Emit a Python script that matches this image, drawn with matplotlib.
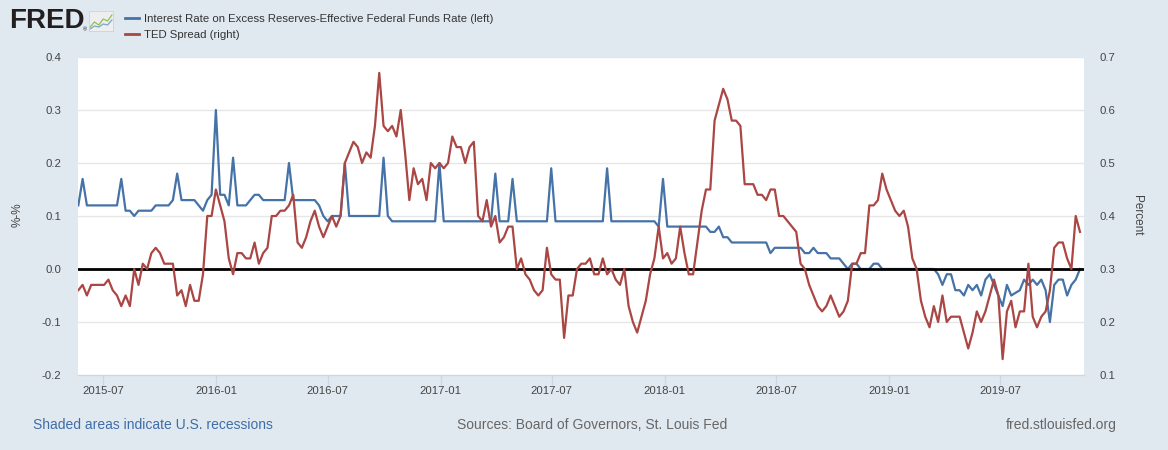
import matplotlib

matplotlib.use("Agg")
import matplotlib.pyplot as plt
import matplotlib.dates as mdates
from matplotlib.lines import Line2D
from matplotlib.ticker import FormatStrFormatter
import pandas as pd

# weekly observations, first week ending 2015-05-22
START = "2015-05-22"

IOER_EFFR = [
    0.12, 0.17, 0.12, 0.12, 0.12, 0.12, 0.12, 0.12, 0.12, 0.12,
    0.17, 0.11, 0.11, 0.10, 0.11, 0.11, 0.11, 0.11, 0.12, 0.12,
    0.12, 0.12, 0.13, 0.18, 0.13, 0.13, 0.13, 0.13, 0.12, 0.11,
    0.13, 0.14, 0.30, 0.14, 0.14, 0.12, 0.21, 0.12, 0.12, 0.12,
    0.13, 0.14, 0.14, 0.13, 0.13, 0.13, 0.13, 0.13, 0.13, 0.20,
    0.13, 0.13, 0.13, 0.13, 0.13, 0.13, 0.12, 0.10, 0.09, 0.10,
    0.10, 0.10, 0.20, 0.10, 0.10, 0.10, 0.10, 0.10, 0.10, 0.10,
    0.10, 0.21, 0.10, 0.09, 0.09, 0.09, 0.09, 0.09, 0.09, 0.09,
    0.09, 0.09, 0.09, 0.09, 0.20, 0.09, 0.09, 0.09, 0.09, 0.09,
    0.09, 0.09, 0.09, 0.09, 0.09, 0.09, 0.09, 0.18, 0.09, 0.09,
    0.09, 0.17, 0.09, 0.09, 0.09, 0.09, 0.09, 0.09, 0.09, 0.09,
    0.19, 0.09, 0.09, 0.09, 0.09, 0.09, 0.09, 0.09, 0.09, 0.09,
    0.09, 0.09, 0.09, 0.19, 0.09, 0.09, 0.09, 0.09, 0.09, 0.09,
    0.09, 0.09, 0.09, 0.09, 0.09, 0.08, 0.17, 0.08, 0.08, 0.08,
    0.08, 0.08, 0.08, 0.08, 0.08, 0.08, 0.08, 0.07, 0.07, 0.08,
    0.06, 0.06, 0.05, 0.05, 0.05, 0.05, 0.05, 0.05, 0.05, 0.05,
    0.05, 0.03, 0.04, 0.04, 0.04, 0.04, 0.04, 0.04, 0.04, 0.03,
    0.03, 0.04, 0.03, 0.03, 0.03, 0.02, 0.02, 0.02, 0.01, 0.00,
    0.01, 0.01, 0.00, 0.00, 0.00, 0.01, 0.01, 0.00, 0.00, 0.00,
    0.00, 0.00, 0.00, 0.00, 0.00, 0.00, 0.00, 0.00, 0.00, 0.00,
    -0.01, -0.03, -0.01, -0.01, -0.04, -0.04, -0.05, -0.03, -0.04, -0.03,
    -0.05, -0.02, -0.01, -0.03, -0.05, -0.07, -0.03, -0.05, -0.045, -0.04,
    -0.02, -0.03, -0.02, -0.03, -0.02, -0.04, -0.10, -0.03, -0.02, -0.02,
    -0.05, -0.03, -0.02, 0.00,
]

TED = [
    0.26, 0.27, 0.25, 0.27, 0.27, 0.27, 0.27, 0.28, 0.26, 0.25,
    0.23, 0.25, 0.23, 0.30, 0.27, 0.31, 0.30, 0.33, 0.34, 0.33,
    0.31, 0.31, 0.31, 0.25, 0.26, 0.23, 0.27, 0.24, 0.24, 0.29,
    0.40, 0.40, 0.45, 0.42, 0.39, 0.32, 0.29, 0.33, 0.33, 0.32,
    0.32, 0.35, 0.31, 0.33, 0.34, 0.40, 0.40, 0.41, 0.41, 0.42,
    0.44, 0.35, 0.34, 0.36, 0.39, 0.41, 0.38, 0.36, 0.38, 0.40,
    0.38, 0.40, 0.50, 0.52, 0.54, 0.53, 0.50, 0.52, 0.51, 0.57,
    0.67, 0.57, 0.56, 0.57, 0.55, 0.60, 0.52, 0.43, 0.49, 0.46,
    0.47, 0.43, 0.50, 0.49, 0.50, 0.49, 0.50, 0.55, 0.53, 0.53,
    0.50, 0.53, 0.54, 0.40, 0.39, 0.43, 0.38, 0.40, 0.35, 0.36,
    0.38, 0.38, 0.30, 0.32, 0.29, 0.28, 0.26, 0.25, 0.26, 0.34,
    0.29, 0.28, 0.28, 0.17, 0.25, 0.25, 0.30, 0.31, 0.31, 0.32,
    0.29, 0.29, 0.32, 0.29, 0.30, 0.28, 0.27, 0.30, 0.23, 0.20,
    0.18, 0.21, 0.24, 0.29, 0.32, 0.38, 0.32, 0.33, 0.31, 0.32,
    0.38, 0.33, 0.29, 0.29, 0.35, 0.41, 0.45, 0.45, 0.58, 0.61,
    0.64, 0.62, 0.58, 0.58, 0.57, 0.46, 0.46, 0.46, 0.44, 0.44,
    0.43, 0.45, 0.45, 0.40, 0.40, 0.39, 0.38, 0.37, 0.31, 0.30,
    0.27, 0.25, 0.23, 0.22, 0.23, 0.25, 0.23, 0.21, 0.22, 0.24,
    0.31, 0.31, 0.33, 0.33, 0.42, 0.42, 0.43, 0.48, 0.45, 0.43,
    0.41, 0.40, 0.41, 0.38, 0.32, 0.30, 0.24, 0.21, 0.19, 0.23,
    0.20, 0.25, 0.20, 0.21, 0.21, 0.21, 0.18, 0.15, 0.18, 0.22,
    0.20, 0.22, 0.25, 0.28, 0.25, 0.13, 0.22, 0.24, 0.19, 0.22,
    0.22, 0.31, 0.21, 0.19, 0.21, 0.22, 0.26, 0.34, 0.35, 0.35,
    0.32, 0.30, 0.40, 0.37,
]

LEFT_TICKS = [-0.2, -0.1, 0.0, 0.1, 0.2, 0.3, 0.4]
RIGHT_TICKS = [0.1, 0.2, 0.3, 0.4, 0.5, 0.6, 0.7]
X_TICKS = ["2015-07-01", "2016-01-01", "2016-07-01", "2017-01-01", "2017-07-01",
           "2018-01-01", "2018-07-01", "2019-01-01", "2019-07-01"]

SERIES_LABELS = [
    "Interest Rate on Excess Reserves-Effective Federal Funds Rate (left)",
    "TED Spread (right)",
]
LOGO_A = [0.2, 0.45, 0.3, 0.6, 0.5, 0.8]
LOGO_B = [0.1, 0.25, 0.2, 0.35, 0.3, 0.55]

BG = "#e1e9f0"
BLUE = "#4572a7"
RED = "#aa4643"
TEXT = "#444444"
FONT = ["Liberation Sans", "DejaVu Sans"]

plt.rcParams["font.family"] = FONT
plt.rcParams["axes.unicode_minus"] = False

W, H = 1168, 450


def fx(px):
    return px / W


def fy(py):
    return 1 - py / H


def main():
    dates = pd.date_range(START, periods=len(TED), freq="7D")

    fig = plt.figure(figsize=(W / 100, H / 100), dpi=100, facecolor=BG)
    ax = fig.add_axes([fx(78), fy(375), fx(1084 - 78), (375 - 57) / H])
    ax.set_facecolor("white")
    ax2 = ax.twinx()

    ax.plot(dates[:len(IOER_EFFR)], IOER_EFFR, color=BLUE, lw=1.6, zorder=3)
    ax.axhline(0, color="black", lw=2.0, zorder=4)
    ax2.plot(dates, TED, color=RED, lw=1.6, zorder=3)

    ax.set_ylim(LEFT_TICKS[0], LEFT_TICKS[-1])
    ax2.set_ylim(RIGHT_TICKS[0], RIGHT_TICKS[-1])
    ax.set_yticks(LEFT_TICKS)
    ax2.set_yticks(RIGHT_TICKS)
    ax.yaxis.set_major_formatter(FormatStrFormatter("%.1f"))
    ax2.yaxis.set_major_formatter(FormatStrFormatter("%.1f"))
    ax.set_xlim(dates[0] - pd.Timedelta(days=0.5), dates[-1] + pd.Timedelta(days=6.5))
    ax.set_xticks(pd.to_datetime(X_TICKS))
    ax.xaxis.set_major_formatter(mdates.DateFormatter("%Y-%m"))

    ax.yaxis.grid(True, color="#e6e6e6", lw=1.0, zorder=0)
    ax.set_axisbelow(True)
    for a in (ax, ax2):
        for side in ("top", "left", "right"):
            a.spines[side].set_visible(False)
        a.spines["bottom"].set_color("#ccd6eb")
    ax.tick_params(axis="y", length=0, pad=12, labelsize=8.2, labelcolor=TEXT)
    ax2.tick_params(axis="y", length=0, pad=11, labelsize=8.2, labelcolor=TEXT)
    ax.tick_params(axis="x", length=7, width=1, color="#ccd6eb", pad=1,
                   labelsize=8.2, labelcolor=TEXT)

    fig.text(fx(18), fy(215), "%-%", rotation=90, ha="center", va="center",
             fontsize=8.5, color=TEXT)
    fig.text(fx(1137), fy(215), "Percent", rotation=270, ha="center", va="center",
             fontsize=8.5, color=TEXT)

    # header: logo and legend
    fig.text(fx(9), fy(21), "FRED", fontsize=20, fontweight="bold",
             color="#231f20", va="center", ha="left")
    fig.text(fx(83), fy(30), "\u00ae", fontsize=4, color="#231f20", va="center")
    logo = fig.add_axes([fx(89), fy(31), fx(24), 20 / H])
    logo.set_facecolor("#eeeeee")
    logo.plot(LOGO_A, color="#8fbf5a", lw=0.9)
    logo.plot(LOGO_B, color="#7aa7c7", lw=0.9)
    logo.set_ylim(0, 1)
    logo.set_xticks([])
    logo.set_yticks([])
    for s in logo.spines.values():
        s.set_color("#cccccc")
        s.set_linewidth(0.5)

    handles = [Line2D([], [], color=BLUE, lw=2), Line2D([], [], color=RED, lw=2)]
    fig.legend(handles, SERIES_LABELS, loc="upper left",
               bbox_to_anchor=(fx(125), fy(14)), frameon=False, fontsize=8.2,
               handlelength=1.2, handletextpad=0.45, labelspacing=0.55,
               borderaxespad=0, borderpad=0, labelcolor="#333333")

    # footer
    fig.text(fx(33), fy(425), "Shaded areas indicate U.S. recessions",
             fontsize=10, color="#3f6ca8", ha="left", va="center")
    fig.text(fx(592), fy(425), "Sources: Board of Governors, St. Louis Fed",
             fontsize=10, color="#666666", ha="center", va="center")
    fig.text(fx(1117), fy(425), "fred.stlouisfed.org",
             fontsize=10, color="#666666", ha="right", va="center")

    fig.savefig("out.png", dpi=100, facecolor=BG)
    plt.close(fig)


if __name__ == "__main__":
    main()
